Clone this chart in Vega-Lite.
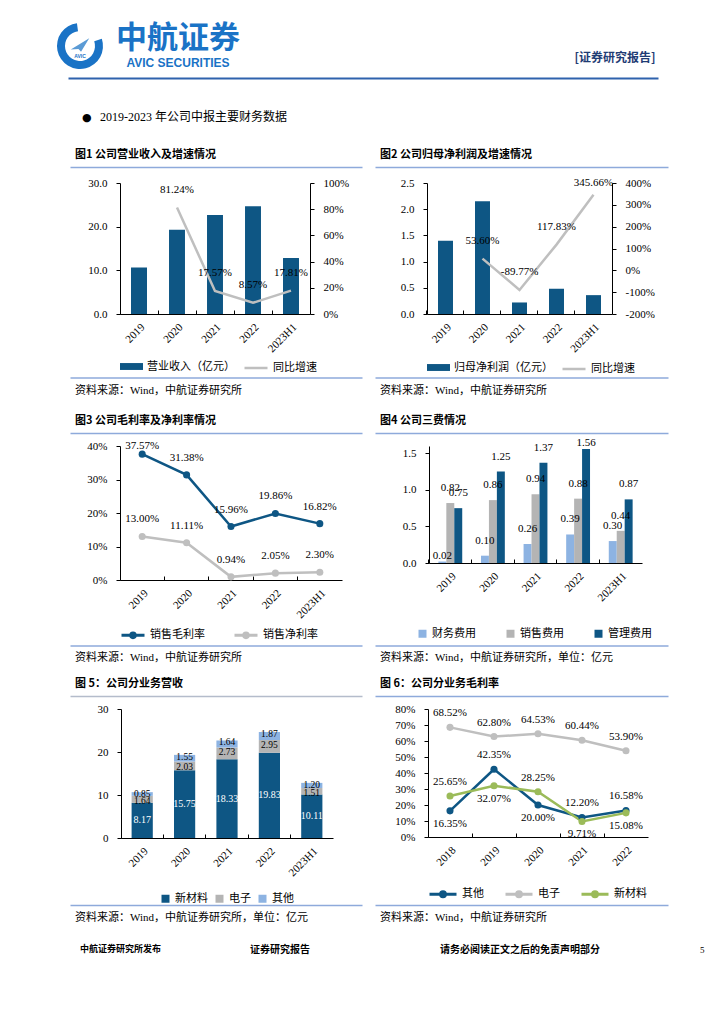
{
"$schema": "https://vega.github.io/schema/vega-lite/v6.json",
"padding": {"left": 0, "top": 22, "right": 0, "bottom": 0},
"background": "white",
"spacing": 0,
"resolve": {"scale": {"color": "independent", "fill": "independent", "stroke": "independent"}, "legend": {"color": "independent", "fill": "independent", "stroke": "independent"}},
"config": {
 "view": {"stroke": null},
 "font": "Liberation Serif, Noto Sans CJK SC",
 "locale": {"number": {"decimal": ".", "thousands": ",", "grouping": [3], "currency": ["", ""], "minus": "-"}},
 "axis": {"labelFont": "Liberation Serif, Noto Sans CJK SC", "labelFontSize": 11, "labelColor": "#000000", "domainColor": "#000000", "tickColor": "#000000", "grid": false, "tickSize": 4, "labelPadding": 3},
 "axisY": {"labelPadding": 9},
 "legend": {"labelFont": "Liberation Serif, Noto Sans CJK SC", "labelFontSize": 11, "labelColor": "#000000", "orient": "bottom", "labelOffset": 4},
 "title": {"font": "Noto Sans CJK SC", "color": "#000000", "fontWeight": "bold", "fontSize": 11},
 "text": {"font": "Liberation Serif", "fontSize": 11, "color": "#000000"}
},
"vconcat": [
 {"spacing": 0, "hconcat": [
  {"width": 57, "height": 48, "data": {"values": [{}]}, "mark": {"type": "point", "opacity": 0, "size": 1}},
  {"width": 44, "height": 48, "data": {"values": [{}]}, "layer": [
   {"mark": {"type": "arc", "innerRadius": 15, "outerRadius": 23, "theta": 1.25, "theta2": 6.15, "fill": "#1a73c6"}, "encoding": {}},
   {"mark": {"type": "point", "shape": "M-0.9,0.35L0.9,-0.75L0.1,0.55L-0.15,0.3Z", "filled": true, "size": 420, "color": "#5b9bd5", "opacity": 1}, "encoding": {}},
   {"mark": {"type": "text", "text": "AVIC", "fontSize": 5, "dy": 10, "color": "#1a73c6", "font": "Liberation Sans", "fontWeight": "bold"}, "encoding": {}}
  ]},
  {"width": 150, "height": 48, "data": {"values": [{}]}, "layer": [
   {"mark": {"type": "text", "text": "中航证券", "fontSize": 31, "fontWeight": "bold", "font": "Noto Sans CJK SC", "color": "#1a73c6", "dy": -7}, "encoding": {}},
   {"mark": {"type": "text", "text": "AVIC SECURITIES", "fontSize": 12, "fontWeight": "bold", "font": "Liberation Sans", "color": "#1a73c6", "dy": 17}, "encoding": {}}
  ]},
  {"width": 316, "height": 48, "data": {"values": [{}]}, "mark": {"type": "point", "opacity": 0, "size": 1}},
  {"width": 92, "height": 48, "data": {"values": [{}]}, "mark": {"type": "text", "text": "[证券研究报告]", "fontSize": 12, "fontWeight": "bold", "font": "Noto Sans CJK SC", "color": "#1f3c74", "dy": 12}}
 ]},
 {"spacing": 0, "hconcat": [
  {"width": 68, "height": 8, "data": {"values": [{}]}, "mark": {"type": "point", "opacity": 0, "size": 1}},
  {"width": 590, "height": 8, "data": {"values": [{"v": 0.5}]}, "mark": {"type": "point", "opacity": 0, "size": 1},
   "encoding": {"x": {"field": "v", "type": "quantitative", "scale": {"domain": [0, 1]}, "axis": {"orient": "bottom", "labels": false, "ticks": false, "title": null, "domainColor": "#2f62ad", "domainWidth": 2}}}}
 ]},
 {"spacing": 0, "hconcat": [
  {"width": 82, "height": 1, "data": {"values": [{}]}, "mark": {"type": "point", "opacity": 0, "size": 1}},
  {"width": 18, "height": 1, "data": {"values": [{}]}, "mark": {"type": "point", "opacity": 0, "size": 1},
   "title": {"text": "●", "orient": "bottom", "anchor": "start", "fontSize": 11, "offset": 33, "font": "DejaVu Sans", "fontWeight": "normal"}},
  {"width": 240, "height": 1, "data": {"values": [{}]}, "mark": {"type": "point", "opacity": 0, "size": 1},
   "title": {"text": "2019-2023 年公司中报主要财务数据", "orient": "bottom", "anchor": "start", "fontSize": 12, "offset": 33, "font": "Liberation Serif, Noto Sans CJK SC", "fontWeight": "normal"}}
 ]},
 {"width": 1, "height": 26, "data": {"values": [{}]}, "mark": {"type": "point", "opacity": 0, "size": 1}},
 {"spacing": 0, "hconcat": [
  {"width": 70, "height": 1, "data": {"values": [{}]}, "mark": {"type": "point", "opacity": 0, "size": 1}},
  {"width": 292, "height": 8.5, "data": {"values": [{"v": 0.5}]}, "mark": {"type": "point", "opacity": 0, "size": 1},
   "encoding": {"x": {"field": "v", "type": "quantitative", "scale": {"domain": [0, 1]}, "axis": {"orient": "top", "labels": false, "ticks": false, "title": null, "domainColor": "#8eaadb", "domainWidth": 1.5}}},
   "title": {"text": "图1  公司营业收入及增速情况", "anchor": "start", "offset": 7, "dx": 5}},
  {"width": 13, "height": 1, "data": {"values": [{}]}, "mark": {"type": "point", "opacity": 0, "size": 1}},
  {"width": 293, "height": 8.5, "data": {"values": [{"v": 0.5}]}, "mark": {"type": "point", "opacity": 0, "size": 1},
   "encoding": {"x": {"field": "v", "type": "quantitative", "scale": {"domain": [0, 1]}, "axis": {"orient": "top", "labels": false, "ticks": false, "title": null, "domainColor": "#8eaadb", "domainWidth": 1.5}}},
   "title": {"text": "图2  公司归母净利润及增速情况", "anchor": "start", "offset": 7, "dx": 5}}
 ]},
 {"spacing": 0,
  "resolve": {"scale": {"color": "independent", "fill": "independent", "stroke": "independent"}, "legend": {"color": "independent", "fill": "independent", "stroke": "independent"}},
  "hconcat": [
  {"width": 70, "height": 1, "data": {"values": [{}]}, "mark": {"type": "point", "opacity": 0, "size": 1}},
  {"width": 190, "height": 131,
   "data": {"values": [
    {"year": "2019", "rev": 10.65, "g": null},
    {"year": "2020", "rev": 19.31, "g": 0.8124},
    {"year": "2021", "rev": 22.70, "g": 0.1757},
    {"year": "2022", "rev": 24.65, "g": 0.0857},
    {"year": "2023H1", "rev": 12.82, "g": 0.1781}
   ]},
   "encoding": {"x": {"field": "year", "type": "nominal", "sort": null, "scale": {"type": "band", "paddingInner": 0.58, "paddingOuter": 0.29},
     "axis": {"title": null, "labelAngle": -45, "bandPosition": -0.69, "tickSize": -4, "labelPadding": 11}}},
   "layer": [
    {"mark": {"type": "bar"},
     "encoding": {
      "y": {"field": "rev", "type": "quantitative", "scale": {"domain": [0, 30]}, "axis": {"title": null, "values": [0, 10, 20, 30], "format": ".1f", "minExtent": 50}},
      "fill": {"datum": "营业收入（亿元）", "scale": {"range": ["#0e5684"]}, "legend": {"orient": "bottom", "title": null, "symbolType": "M-1,-0.3H1V0.3H-1Z", "symbolSize": 529, "symbolStrokeWidth": 0, "offset": 1}}}},
    {"transform": [{"filter": "datum.g != null"}],
     "encoding": {"y": {"field": "g", "type": "quantitative", "scale": {"domain": [0, 1]}, "axis": {"title": null, "orient": "right", "values": [0, 0.2, 0.4, 0.6, 0.8, 1], "format": ".0%", "minExtent": 52}}},
     "layer": [
      {"mark": {"type": "line", "strokeWidth": 2.5},
       "encoding": {"stroke": {"datum": "同比增速", "scale": {"range": ["#bfbfbf"]}, "legend": {"orient": "bottom", "title": null, "symbolType": "stroke", "symbolSize": 529, "symbolStrokeWidth": 2.5, "offset": 1}}}},
      {"mark": {"type": "text", "dy": -18}, "encoding": {"text": {"field": "g", "format": ".2%"}}}
     ]}
   ],
   "resolve": {"scale": {"y": "independent"}}},
  {"width": 13, "height": 1, "data": {"values": [{}]}, "mark": {"type": "point", "opacity": 0, "size": 1}},
  {"width": 185, "height": 131,
   "data": {"values": [
    {"year": "2019", "np": 1.40, "g": null},
    {"year": "2020", "np": 2.15, "g": 0.5360},
    {"year": "2021", "np": 0.22, "g": -0.8977},
    {"year": "2022", "np": 0.48, "g": 1.1783},
    {"year": "2023H1", "np": 0.36, "g": 3.4566}
   ]},
   "encoding": {"x": {"field": "year", "type": "nominal", "sort": null, "scale": {"type": "band", "paddingInner": 0.595, "paddingOuter": 0.2975},
     "axis": {"title": null, "labelAngle": -45, "bandPosition": -0.735, "tickSize": -4, "labelPadding": 11}}},
   "layer": [
    {"mark": {"type": "bar"},
     "encoding": {
      "y": {"field": "np", "type": "quantitative", "scale": {"domain": [0, 2.5]}, "axis": {"title": null, "values": [0, 0.5, 1, 1.5, 2, 2.5], "format": ".1f", "minExtent": 52}},
      "fill": {"datum": "归母净利润（亿元）", "scale": {"range": ["#0e5684"]}, "legend": {"orient": "bottom", "title": null, "symbolType": "M-1,-0.3H1V0.3H-1Z", "symbolSize": 529, "symbolStrokeWidth": 0, "offset": 2}}}},
    {"transform": [{"filter": "datum.g != null"}],
     "encoding": {"y": {"field": "g", "type": "quantitative", "scale": {"domain": [-2, 4]}, "axis": {"title": null, "orient": "right", "values": [-2, -1, 0, 1, 2, 3, 4], "format": ".0%"}}},
     "layer": [
      {"mark": {"type": "line", "strokeWidth": 2.5},
       "encoding": {"stroke": {"datum": "同比增速", "scale": {"range": ["#bfbfbf"]}, "legend": {"orient": "bottom", "title": null, "symbolType": "stroke", "symbolSize": 529, "symbolStrokeWidth": 2.5, "offset": 2}}}},
      {"transform": [{"filter": "datum.year != '2023H1'"}], "mark": {"type": "text", "dy": -18}, "encoding": {"text": {"field": "g", "format": ".2%"}}},
      {"transform": [{"filter": "datum.year == '2023H1'"}], "mark": {"type": "text", "dy": -12}, "encoding": {"text": {"field": "g", "format": ".2%"}}}
     ]}
   ],
   "resolve": {"scale": {"y": "independent"}}}
 ]},
 {"spacing": 0, "hconcat": [
  {"width": 70, "height": 1, "data": {"values": [{}]}, "mark": {"type": "point", "opacity": 0, "size": 1}},
  {"width": 292, "height": 3.5, "data": {"values": [{"v": 0.5}]}, "mark": {"type": "point", "opacity": 0, "size": 1},
   "encoding": {"x": {"field": "v", "type": "quantitative", "scale": {"domain": [0, 1]}, "axis": {"orient": "bottom", "labels": false, "ticks": false, "title": null, "domainColor": "#8eaadb", "domainWidth": 1.5}}},
   "title": {"text": "资料来源：Wind，中航证券研究所", "orient": "bottom", "anchor": "start", "offset": 7, "dx": 5, "fontWeight": "normal", "font": "Liberation Serif, Noto Sans CJK SC"}},
  {"width": 13, "height": 1, "data": {"values": [{}]}, "mark": {"type": "point", "opacity": 0, "size": 1}},
  {"width": 293, "height": 3.5, "data": {"values": [{"v": 0.5}]}, "mark": {"type": "point", "opacity": 0, "size": 1},
   "encoding": {"x": {"field": "v", "type": "quantitative", "scale": {"domain": [0, 1]}, "axis": {"orient": "bottom", "labels": false, "ticks": false, "title": null, "domainColor": "#8eaadb", "domainWidth": 1.5}}},
   "title": {"text": "资料来源：Wind，中航证券研究所", "orient": "bottom", "anchor": "start", "offset": 7, "dx": 5, "fontWeight": "normal", "font": "Liberation Serif, Noto Sans CJK SC"}}
 ]},
 {"width": 1, "height": 19, "data": {"values": [{}]}, "mark": {"type": "point", "opacity": 0, "size": 1}},
 {"spacing": 0, "hconcat": [
  {"width": 70, "height": 1, "data": {"values": [{}]}, "mark": {"type": "point", "opacity": 0, "size": 1}},
  {"width": 292, "height": 2.5, "data": {"values": [{"v": 0.5}]}, "mark": {"type": "point", "opacity": 0, "size": 1},
   "encoding": {"x": {"field": "v", "type": "quantitative", "scale": {"domain": [0, 1]}, "axis": {"orient": "top", "labels": false, "ticks": false, "title": null, "domainColor": "#8eaadb", "domainWidth": 1.5}}},
   "title": {"text": "图3  公司毛利率及净利率情况", "anchor": "start", "offset": 7, "dx": 5}},
  {"width": 13, "height": 1, "data": {"values": [{}]}, "mark": {"type": "point", "opacity": 0, "size": 1}},
  {"width": 293, "height": 2.5, "data": {"values": [{"v": 0.5}]}, "mark": {"type": "point", "opacity": 0, "size": 1},
   "encoding": {"x": {"field": "v", "type": "quantitative", "scale": {"domain": [0, 1]}, "axis": {"orient": "top", "labels": false, "ticks": false, "title": null, "domainColor": "#8eaadb", "domainWidth": 1.5}}},
   "title": {"text": "图4  公司三费情况", "anchor": "start", "offset": 7, "dx": 5}}
 ]},
 {"spacing": 0,
  "resolve": {"scale": {"color": "independent", "fill": "independent", "stroke": "independent"}, "legend": {"color": "independent", "fill": "independent", "stroke": "independent"}},
  "hconcat": [
  {"width": 70, "height": 1, "data": {"values": [{}]}, "mark": {"type": "point", "opacity": 0, "size": 1}},
  {"width": 222, "height": 134,
   "data": {"values": [
    {"year": "2019", "s": "销售毛利率", "v": 0.3757},
    {"year": "2020", "s": "销售毛利率", "v": 0.3138},
    {"year": "2021", "s": "销售毛利率", "v": 0.1596},
    {"year": "2022", "s": "销售毛利率", "v": 0.1986},
    {"year": "2023H1", "s": "销售毛利率", "v": 0.1682},
    {"year": "2019", "s": "销售净利率", "v": 0.1300},
    {"year": "2020", "s": "销售净利率", "v": 0.1111},
    {"year": "2021", "s": "销售净利率", "v": 0.0094},
    {"year": "2022", "s": "销售净利率", "v": 0.0205},
    {"year": "2023H1", "s": "销售净利率", "v": 0.0230}
   ]},
   "encoding": {
    "x": {"field": "year", "type": "nominal", "sort": null, "scale": {"type": "band", "paddingInner": 0, "paddingOuter": 0},
      "axis": {"title": null, "labelAngle": -45, "bandPosition": 0, "tickSize": -4, "labelPadding": 11}},
    "y": {"field": "v", "type": "quantitative", "scale": {"domain": [0, 0.4]}, "axis": {"title": null, "values": [0, 0.1, 0.2, 0.3, 0.4], "format": ".0%", "minExtent": 50}}
   },
   "layer": [
    {"mark": {"type": "line", "strokeWidth": 2.5, "point": {"filled": true, "size": 50}},
     "encoding": {"color": {"field": "s", "type": "nominal", "scale": {"domain": ["销售毛利率", "销售净利率"], "range": ["#0e5684", "#bfbfbf"]},
       "legend": {"orient": "bottom", "title": null, "symbolType": "M-1,0H1M0.2,0A0.2,0.2,0,1,1,-0.2,0A0.2,0.2,0,1,1,0.2,0", "symbolSize": 529, "symbolStrokeWidth": 3, "columnPadding": 23, "offset": 2}}}},
    {"transform": [{"filter": "!(datum.year == '2019' && datum.s == '销售毛利率')"}], "mark": {"type": "text", "dy": -17}, "encoding": {"text": {"field": "v", "format": ".2%"}}},
    {"transform": [{"filter": "datum.year == '2019' && datum.s == '销售毛利率'"}], "mark": {"type": "text", "dy": -8}, "encoding": {"text": {"field": "v", "format": ".2%"}}}
   ]},
  {"width": 33, "height": 1, "data": {"values": [{}]}, "mark": {"type": "point", "opacity": 0, "size": 1}},
  {"width": 213, "height": 117,
   "data": {"values": [
    {"year": "2019", "s": "财务费用", "v": 0.02}, {"year": "2019", "s": "销售费用", "v": 0.82}, {"year": "2019", "s": "管理费用", "v": 0.75},
    {"year": "2020", "s": "财务费用", "v": 0.10}, {"year": "2020", "s": "销售费用", "v": 0.86}, {"year": "2020", "s": "管理费用", "v": 1.25},
    {"year": "2021", "s": "财务费用", "v": 0.26}, {"year": "2021", "s": "销售费用", "v": 0.94}, {"year": "2021", "s": "管理费用", "v": 1.37},
    {"year": "2022", "s": "财务费用", "v": 0.39}, {"year": "2022", "s": "销售费用", "v": 0.88}, {"year": "2022", "s": "管理费用", "v": 1.56},
    {"year": "2023H1", "s": "财务费用", "v": 0.30}, {"year": "2023H1", "s": "销售费用", "v": 0.44}, {"year": "2023H1", "s": "管理费用", "v": 0.87}
   ]},
   "encoding": {
    "x": {"field": "year", "type": "nominal", "sort": null, "scale": {"type": "band", "paddingInner": 0.44, "paddingOuter": 0.22},
      "axis": {"title": null, "labelAngle": -45, "bandPosition": -0.393, "tickSize": -4, "labelPadding": 11}},
    "xOffset": {"field": "s", "type": "nominal", "sort": ["财务费用", "销售费用", "管理费用"], "scale": {"paddingInner": 0, "paddingOuter": 0}},
    "y": {"field": "v", "type": "quantitative", "scale": {"domain": [0, 1.6]}, "axis": {"title": null, "values": [0, 0.5, 1, 1.5], "format": ".1f", "minExtent": 54}}
   },
   "layer": [
    {"mark": {"type": "bar"},
     "encoding": {"color": {"field": "s", "type": "nominal", "scale": {"domain": ["财务费用", "销售费用", "管理费用"], "range": ["#8db3e2", "#b4b4b4", "#0e5684"]},
       "legend": {"orient": "none", "legendX": -12, "legendY": 182, "title": null, "symbolType": "square", "symbolSize": 64, "columnPadding": 29, "direction": "horizontal"}}}},
    {"transform": [{"filter": "!((datum.year == '2022' && datum.s == '管理费用') || (datum.year == '2019' && datum.s == '财务费用'))"}], "mark": {"type": "text", "dy": -15}, "encoding": {"text": {"field": "v", "format": ".2f"}}},
    {"transform": [{"filter": "(datum.year == '2022' && datum.s == '管理费用') || (datum.year == '2019' && datum.s == '财务费用')"}], "mark": {"type": "text", "dy": -6}, "encoding": {"text": {"field": "v", "format": ".2f"}}}
   ]}
 ]},
 {"spacing": 0, "hconcat": [
  {"width": 70, "height": 1, "data": {"values": [{}]}, "mark": {"type": "point", "opacity": 0, "size": 1}},
  {"width": 292, "height": 1.5, "data": {"values": [{"v": 0.5}]}, "mark": {"type": "point", "opacity": 0, "size": 1},
   "encoding": {"x": {"field": "v", "type": "quantitative", "scale": {"domain": [0, 1]}, "axis": {"orient": "bottom", "labels": false, "ticks": false, "title": null, "domainColor": "#8eaadb", "domainWidth": 1.5}}},
   "title": {"text": "资料来源：Wind，中航证券研究所", "orient": "bottom", "anchor": "start", "offset": 6, "dx": 5, "fontWeight": "normal", "font": "Liberation Serif, Noto Sans CJK SC"}},
  {"width": 13, "height": 1, "data": {"values": [{}]}, "mark": {"type": "point", "opacity": 0, "size": 1}},
  {"width": 293, "height": 1.5, "data": {"values": [{"v": 0.5}]}, "mark": {"type": "point", "opacity": 0, "size": 1},
   "encoding": {"x": {"field": "v", "type": "quantitative", "scale": {"domain": [0, 1]}, "axis": {"orient": "bottom", "labels": false, "ticks": false, "title": null, "domainColor": "#8eaadb", "domainWidth": 1.5}}},
   "title": {"text": "资料来源：Wind，中航证券研究所，单位：亿元", "orient": "bottom", "anchor": "start", "offset": 6, "dx": 5, "fontWeight": "normal", "font": "Liberation Serif, Noto Sans CJK SC"}}
 ]},
 {"width": 1, "height": 15, "data": {"values": [{}]}, "mark": {"type": "point", "opacity": 0, "size": 1}},
 {"spacing": 0, "hconcat": [
  {"width": 70, "height": 1, "data": {"values": [{}]}, "mark": {"type": "point", "opacity": 0, "size": 1}},
  {"width": 292, "height": 6.5, "data": {"values": [{"v": 0.5}]}, "mark": {"type": "point", "opacity": 0, "size": 1},
   "encoding": {"x": {"field": "v", "type": "quantitative", "scale": {"domain": [0, 1]}, "axis": {"orient": "top", "labels": false, "ticks": false, "title": null, "domainColor": "#b4bccb", "domainWidth": 1.5}}},
   "title": {"text": "图 5：公司分业务营收", "anchor": "start", "offset": 7, "dx": 5}},
  {"width": 13, "height": 1, "data": {"values": [{}]}, "mark": {"type": "point", "opacity": 0, "size": 1}},
  {"width": 293, "height": 6.5, "data": {"values": [{"v": 0.5}]}, "mark": {"type": "point", "opacity": 0, "size": 1},
   "encoding": {"x": {"field": "v", "type": "quantitative", "scale": {"domain": [0, 1]}, "axis": {"orient": "top", "labels": false, "ticks": false, "title": null, "domainColor": "#8eaadb", "domainWidth": 1.5}}},
   "title": {"text": "图 6：公司分业务毛利率", "anchor": "start", "offset": 7, "dx": 5}}
 ]},
 {"spacing": 0,
  "resolve": {"scale": {"color": "independent", "fill": "independent", "stroke": "independent"}, "legend": {"color": "independent", "fill": "independent", "stroke": "independent"}},
  "hconcat": [
  {"width": 70, "height": 1, "data": {"values": [{}]}, "mark": {"type": "point", "opacity": 0, "size": 1}},
  {"width": 212, "height": 129,
   "data": {"values": [
    {"year": "2019", "s": "新材料", "ord": 1, "v": 8.17}, {"year": "2019", "s": "电子", "ord": 2, "v": 1.64}, {"year": "2019", "s": "其他", "ord": 3, "v": 0.85},
    {"year": "2020", "s": "新材料", "ord": 1, "v": 15.75}, {"year": "2020", "s": "电子", "ord": 2, "v": 2.03}, {"year": "2020", "s": "其他", "ord": 3, "v": 1.55},
    {"year": "2021", "s": "新材料", "ord": 1, "v": 18.33}, {"year": "2021", "s": "电子", "ord": 2, "v": 2.73}, {"year": "2021", "s": "其他", "ord": 3, "v": 1.64},
    {"year": "2022", "s": "新材料", "ord": 1, "v": 19.83}, {"year": "2022", "s": "电子", "ord": 2, "v": 2.95}, {"year": "2022", "s": "其他", "ord": 3, "v": 1.87},
    {"year": "2023H1", "s": "新材料", "ord": 1, "v": 10.11}, {"year": "2023H1", "s": "电子", "ord": 2, "v": 1.51}, {"year": "2023H1", "s": "其他", "ord": 3, "v": 1.20}
   ]},
   "encoding": {"x": {"field": "year", "type": "nominal", "sort": null, "scale": {"type": "band", "paddingInner": 0.5, "paddingOuter": 0.25},
     "axis": {"title": null, "labelAngle": -45, "bandPosition": -0.5, "tickSize": -4, "labelPadding": 11}}},
   "layer": [
    {"mark": {"type": "bar"},
     "encoding": {
      "y": {"field": "v", "type": "quantitative", "stack": "zero", "scale": {"domain": [0, 30]}, "axis": {"title": null, "values": [0, 10, 20, 30], "format": "d", "minExtent": 51}},
      "color": {"field": "s", "type": "nominal", "scale": {"domain": ["新材料", "电子", "其他"], "range": ["#0e5684", "#b4b4b4", "#8db3e2"]},
        "legend": {"orient": "none", "legendX": 39, "legendY": 184, "title": null, "symbolType": "square", "symbolSize": 64, "columnPadding": 6, "direction": "horizontal"}},
      "order": {"field": "ord"}}},
    {"transform": [{"filter": "datum.s == '新材料'"}], "mark": {"type": "text", "color": "#ffffff", "fontSize": 10},
     "encoding": {"y": {"field": "v", "type": "quantitative", "scale": {"domain": [0, 60]}, "axis": null}, "text": {"field": "v", "format": ".2f"}}},
    {"transform": [{"stack": "v", "groupby": ["year"], "sort": [{"field": "ord"}], "as": ["s0", "s1"]}, {"filter": "datum.s == '电子'"}], "mark": {"type": "text", "fontSize": 9.5, "dy": 5},
     "encoding": {"y": {"field": "s1", "type": "quantitative", "scale": {"domain": [0, 30]}, "axis": null}, "text": {"field": "v", "format": ".2f"}}},
    {"transform": [{"stack": "v", "groupby": ["year"], "sort": [{"field": "ord"}], "as": ["s0", "s1"]}, {"filter": "datum.s == '其他'"}], "mark": {"type": "text", "fontSize": 9.5, "dy": 2},
     "encoding": {"y": {"field": "s1", "type": "quantitative", "scale": {"domain": [0, 30]}, "axis": null}, "text": {"field": "v", "format": ".2f"}}}
   ],
   "resolve": {"scale": {"y": "independent"}}},
  {"width": 42, "height": 1, "data": {"values": [{}]}, "mark": {"type": "point", "opacity": 0, "size": 1}},
  {"width": 220, "height": 128,
   "data": {"values": [
    {"year": "2018", "s": "其他", "v": 0.1635}, {"year": "2019", "s": "其他", "v": 0.4235}, {"year": "2020", "s": "其他", "v": 0.2000}, {"year": "2021", "s": "其他", "v": 0.1220}, {"year": "2022", "s": "其他", "v": 0.1658},
    {"year": "2018", "s": "电子", "v": 0.6852}, {"year": "2019", "s": "电子", "v": 0.6280}, {"year": "2020", "s": "电子", "v": 0.6453}, {"year": "2021", "s": "电子", "v": 0.6044}, {"year": "2022", "s": "电子", "v": 0.5390},
    {"year": "2018", "s": "新材料", "v": 0.2565}, {"year": "2019", "s": "新材料", "v": 0.3207}, {"year": "2020", "s": "新材料", "v": 0.2825}, {"year": "2021", "s": "新材料", "v": 0.0971}, {"year": "2022", "s": "新材料", "v": 0.1508}
   ]},
   "encoding": {
    "x": {"field": "year", "type": "nominal", "sort": null, "scale": {"type": "band", "paddingInner": 0, "paddingOuter": 0},
      "axis": {"title": null, "labelAngle": -45, "bandPosition": 0, "tickSize": -4, "labelPadding": 11}},
    "y": {"field": "v", "type": "quantitative", "scale": {"domain": [0, 0.8]}, "axis": {"title": null, "values": [0, 0.1, 0.2, 0.3, 0.4, 0.5, 0.6, 0.7, 0.8], "format": ".0%", "minExtent": 53}}
   },
   "layer": [
    {"mark": {"type": "line", "strokeWidth": 2.5, "point": {"filled": true, "size": 50}},
     "encoding": {"color": {"field": "s", "type": "nominal", "scale": {"domain": ["其他", "电子", "新材料"], "range": ["#0e5684", "#bfbfbf", "#9bbb59"]},
       "legend": {"orient": "bottom", "title": null, "symbolType": "M-1,0H1M0.18,0A0.18,0.18,0,1,1,-0.18,0A0.18,0.18,0,1,1,0.18,0", "symbolSize": 729, "symbolStrokeWidth": 3, "columnPadding": 15, "offset": 11}}}},
    {"transform": [{"filter": "datum.s == '电子' || (datum.s == '其他' && datum.year != '2018' && datum.year != '2020') || (datum.s == '新材料' && (datum.year == '2018' || datum.year == '2020'))"}],
     "mark": {"type": "text", "dy": -14}, "encoding": {"text": {"field": "v", "format": ".2%"}}},
    {"transform": [{"filter": "!(datum.s == '电子' || (datum.s == '其他' && datum.year != '2018' && datum.year != '2020') || (datum.s == '新材料' && (datum.year == '2018' || datum.year == '2020')))"}],
     "mark": {"type": "text", "dy": 13}, "encoding": {"text": {"field": "v", "format": ".2%"}}}
   ]}
 ]},
 {"spacing": 0, "hconcat": [
  {"width": 70, "height": 1, "data": {"values": [{}]}, "mark": {"type": "point", "opacity": 0, "size": 1}},
  {"width": 292, "height": 1, "data": {"values": [{"v": 0.5}]}, "mark": {"type": "point", "opacity": 0, "size": 1},
   "encoding": {"x": {"field": "v", "type": "quantitative", "scale": {"domain": [0, 1]}, "axis": {"orient": "bottom", "labels": false, "ticks": false, "title": null, "domainColor": "#8eaadb", "domainWidth": 1.5}}},
   "title": {"text": "资料来源：Wind，中航证券研究所，单位：亿元", "orient": "bottom", "anchor": "start", "offset": 7, "dx": 5, "fontWeight": "normal", "font": "Liberation Serif, Noto Sans CJK SC"}},
  {"width": 13, "height": 1, "data": {"values": [{}]}, "mark": {"type": "point", "opacity": 0, "size": 1}},
  {"width": 293, "height": 1, "data": {"values": [{"v": 0.5}]}, "mark": {"type": "point", "opacity": 0, "size": 1},
   "encoding": {"x": {"field": "v", "type": "quantitative", "scale": {"domain": [0, 1]}, "axis": {"orient": "bottom", "labels": false, "ticks": false, "title": null, "domainColor": "#8eaadb", "domainWidth": 1.5}}},
   "title": {"text": "资料来源：Wind，中航证券研究所", "orient": "bottom", "anchor": "start", "offset": 7, "dx": 5, "fontWeight": "normal", "font": "Liberation Serif, Noto Sans CJK SC"}}
 ]},
 {"spacing": 0, "hconcat": [
  {"width": 80, "height": 1, "data": {"values": [{}]}, "mark": {"type": "point", "opacity": 0, "size": 1}},
  {"width": 170, "height": 1, "data": {"values": [{}]}, "mark": {"type": "point", "opacity": 0, "size": 1},
   "title": {"text": "中航证券研究所发布", "orient": "bottom", "anchor": "start", "fontSize": 9, "offset": 21}},
  {"width": 190, "height": 1, "data": {"values": [{}]}, "mark": {"type": "point", "opacity": 0, "size": 1},
   "title": {"text": "证券研究报告", "orient": "bottom", "anchor": "start", "fontSize": 10, "offset": 21}},
  {"width": 260, "height": 1, "data": {"values": [{}]}, "mark": {"type": "point", "opacity": 0, "size": 1},
   "title": {"text": "请务必阅读正文之后的免责声明部分", "orient": "bottom", "anchor": "start", "fontSize": 10, "offset": 21}},
  {"width": 10, "height": 1, "data": {"values": [{}]}, "mark": {"type": "point", "opacity": 0, "size": 1},
   "title": {"text": "5", "orient": "bottom", "anchor": "start", "fontSize": 9, "offset": 22, "fontWeight": "normal", "font": "Liberation Serif"}}
 ]}
]
}
